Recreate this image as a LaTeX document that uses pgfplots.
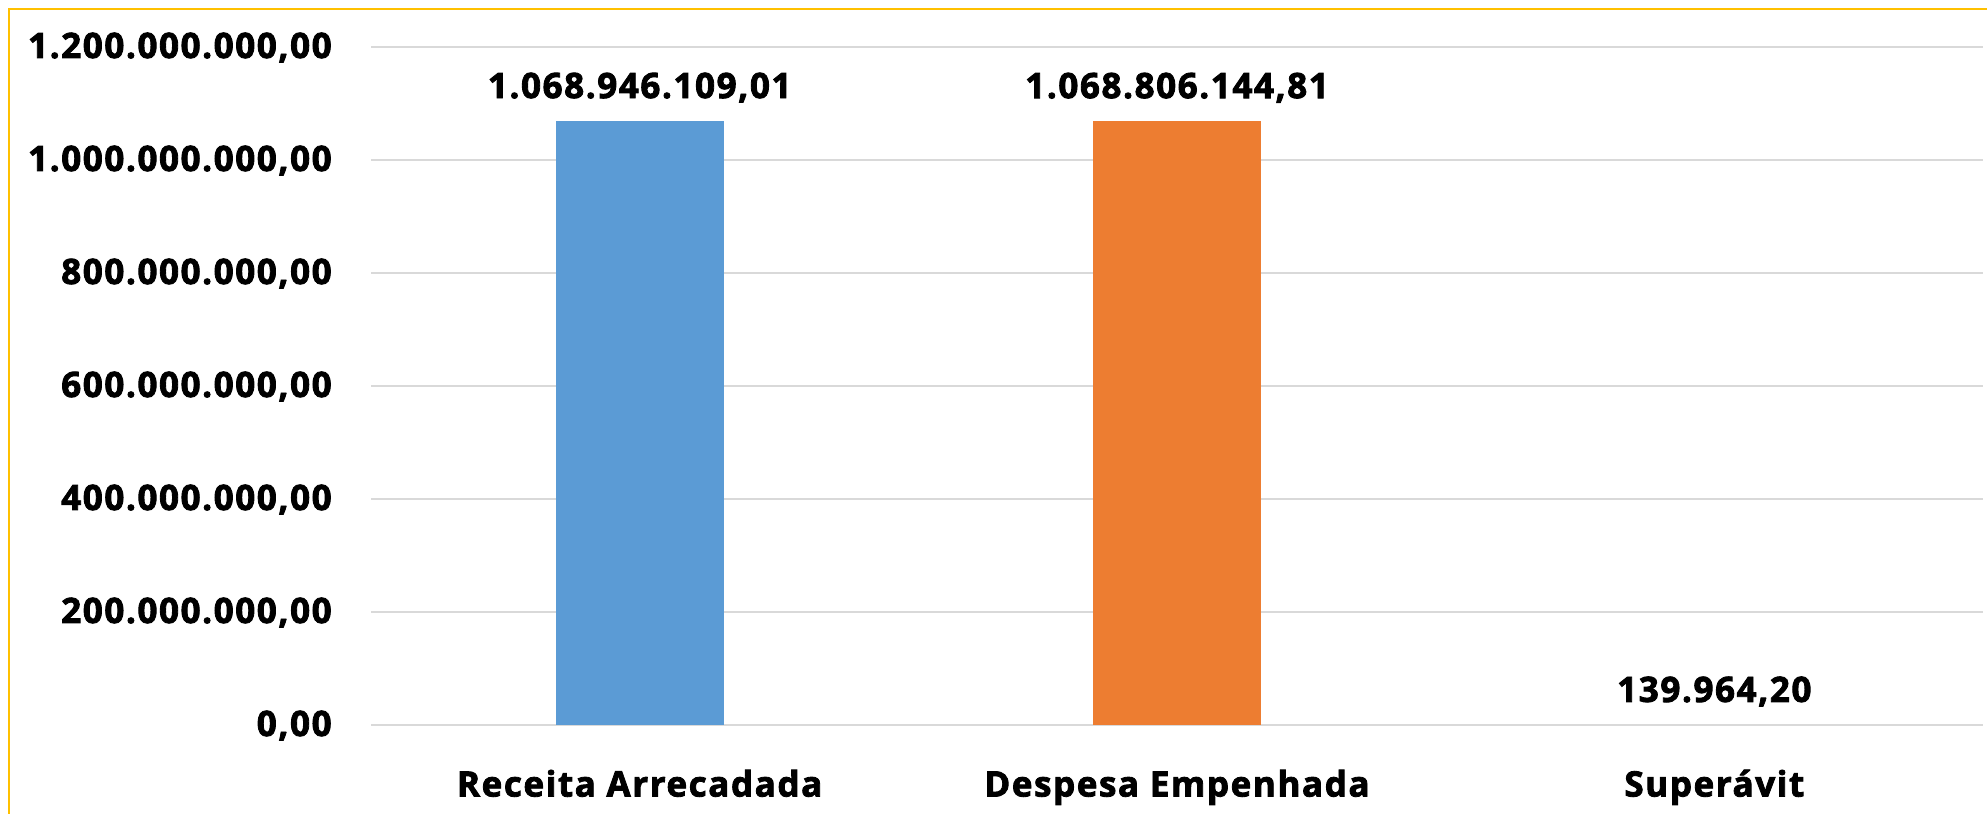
\documentclass[border=0pt]{standalone}
\usepackage{pgfplots}
\pgfplotsset{compat=1.18}
\usepackage{fontspec}
\setmainfont{Open Sans}[BoldFeatures={FakeBold=2.4, LetterSpace=4.5}]
\definecolor{barblue}{HTML}{5B9BD5}
\definecolor{barorange}{HTML}{ED7D31}
\definecolor{frameyellow}{HTML}{FFC000}
\definecolor{gridgray}{HTML}{D9D9D9}
\begin{document}
\begin{tikzpicture}
\useasboundingbox (0,0) rectangle (993.5bp,407bp);
\draw[frameyellow, line width=1bp] (4.25bp,-5bp) -- (4.25bp,402.4bp) -- (1000bp,402.4bp);
\begin{axis}[
  at={(185.5bp,44.5bp)}, anchor=south west,
  width=806bp, height=339bp, scale only axis,
  xmin=-0.5, xmax=2.5, ymin=0, ymax=1200000000,
  scaled y ticks=false,
  xtick={0,1,2},
  xticklabels={Receita Arrecadada, Despesa Empenhada, Superávit},
  ytick={0,200000000,400000000,600000000,800000000,1000000000,1200000000},
  yticklabels={{0,00},{200.000.000,00},{400.000.000,00},{600.000.000,00},{800.000.000,00},{1.000.000.000,00},{1.200.000.000,00}},
  axis line style={draw=none},
  tick style={draw=none},
  ymajorgrids,
  major grid style={color=gridgray, line width=0.8bp},
  font=\fontsize{17.5bp}{21bp}\selectfont\bfseries,
  /pgf/number format/assume math mode=true,
  xticklabel style={anchor=base, inner sep=0pt, yshift=-31.5bp},
  yticklabel style={anchor=base east, inner sep=0pt, xshift=-19.5bp, yshift=-5.5bp},
  ybar, bar width=0.3127, bar shift=0pt,
  nodes near coords,
  point meta=explicit symbolic,
  every node near coord/.append style={anchor=base, inner sep=0pt, yshift=11.5bp, font=\fontsize{17.5bp}{21bp}\selectfont\bfseries, text=black},
  clip=false,
]
\addplot[fill=barblue, draw=none] table[meta=label] {
x y label
0 1068946109.01 {1.068.946.109,01}
};
\addplot[fill=barorange, draw=none] table[meta=label] {
x y label
1 1068806144.81 {1.068.806.144,81}
};
\addplot[fill=none, draw=none] table[meta=label] {
x y label
2 139964.20 {139.964,20}
};
\end{axis}
\end{tikzpicture}
\end{document}
